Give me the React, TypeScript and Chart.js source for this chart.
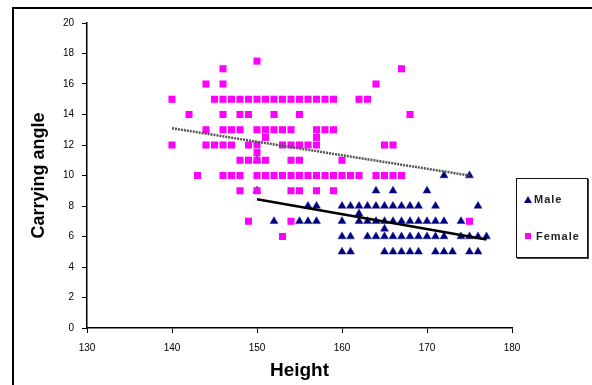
import { useEffect, useRef } from "react";
import { Chart, registerables } from "chart.js";

Chart.register(...registerables);

// ---- Data (height in cm, carrying angle in degrees) ----
const xTicks = [130, 140, 150, 160, 170, 180];
const yTicks = [0, 2, 4, 6, 8, 10, 12, 14, 16, 18, 20];

// Male heights grouped by carrying angle
const male11 = [150];
const male10 = [172, 175];
const male9 = [150, 164, 166, 170];
const male8 = [156, 157, 160, 161, 162, 163, 164, 165, 166, 167, 168, 169, 171, 176];
const male7_5 = [162];
const male7 = [152, 155, 156, 157, 160, 162, 163, 164, 165, 166, 167, 168, 169, 170, 171, 172, 174];
const male6_5 = [165];
const male6 = [160, 161, 163, 164, 165, 166, 167, 168, 169, 170, 171, 172, 174, 175, 176, 177];
const male5 = [160, 161, 165, 166, 167, 168, 169, 171, 172, 173, 175, 176];
const maleAngles = [11, 10, 9, 8, 7.5, 7, 6.5, 6, 5];
const maleGroups = [male11, male10, male9, male8, male7_5, male7, male6_5, male6, male5];

// Female heights grouped by carrying angle
const female17_5 = [150];
const female17 = [146, 167];
const female16 = [144, 146, 164];
const female15 = [140, 145, 146, 147, 148, 149, 150, 151, 152, 153, 154, 155, 156, 157, 158, 159, 162, 163];
const female14 = [142, 146, 148, 149, 152, 155, 168];
const female13 = [144, 146, 147, 148, 150, 151, 152, 153, 154, 157, 158, 159];
const female12_5 = [151, 157];
const female12 = [140, 144, 145, 146, 147, 149, 150, 153, 154, 155, 156, 157, 165, 166];
const female11_5 = [150];
const female11 = [148, 149, 150, 151, 154, 155, 160];
const female10 = [143, 146, 147, 148, 150, 151, 152, 153, 154, 155, 156, 157, 158, 159, 160, 161, 162, 164, 165, 166, 167];
const female9 = [148, 150, 154, 155, 157, 159];
const female7 = [149, 154, 175];
const female6 = [153];
const femaleAngles = [17.5, 17, 16, 15, 14, 13, 12.5, 12, 11.5, 11, 10, 9, 7, 6];
const femaleGroups = [
  female17_5, female17, female16, female15, female14, female13, female12_5,
  female12, female11_5, female11, female10, female9, female7, female6,
];

// Linear trend lines (end points)
const maleTrendX = [150, 177];
const maleTrendY = [8.44, 5.8];
const femaleTrendX = [140, 175];
const femaleTrendY = [13.1, 10.0];

const toPoints = (angles: number[], groups: number[][]) =>
  angles.flatMap((a, i) => groups[i].map((h) => ({ x: h, y: a })));

const FONT = "'Liberation Sans', Arial, sans-serif";

export default function App() {
  const ref = useRef<HTMLCanvasElement | null>(null);

  useEffect(() => {
    if (!ref.current) return;
    const chart = new Chart(ref.current, {
      type: "scatter",
      data: {
        datasets: [
          {
            label: "MaleTrend",
            type: "line",
            data: maleTrendX.map((x, i) => ({ x, y: maleTrendY[i] })),
            borderColor: "#000000",
            borderWidth: 2.5,
            pointRadius: 0,
            showLine: true,
            fill: false,
            order: 1,
          },
          {
            label: "FemaleTrend",
            type: "line",
            data: femaleTrendX.map((x, i) => ({ x, y: femaleTrendY[i] })),
            borderColor: "#555555",
            borderWidth: 2.5,
            borderDash: [2, 1],
            pointRadius: 0,
            showLine: true,
            fill: false,
            order: 2,
          },
          {
            label: "Female",
            data: toPoints(femaleAngles, femaleGroups),
            pointStyle: "rect",
            pointRadius: 5,
            backgroundColor: "#FF00FF",
            borderColor: "#FF00FF",
            borderWidth: 0,
            order: 3,
          },
          {
            label: "Male",
            data: toPoints(maleAngles, maleGroups),
            pointStyle: "triangle",
            pointRadius: 4.6,
            backgroundColor: "#000080",
            borderColor: "#1a1a90",
            borderWidth: 0.5,
            order: 4,
          },
        ],
      },
      options: {
        animation: false,
        responsive: false,
        devicePixelRatio: 1,
        layout: { padding: { left: 0, top: 23, right: 80, bottom: 0 } },
        plugins: {
          legend: { display: false },
          tooltip: { enabled: false },
        },
        scales: {
          x: {
            type: "linear",
            min: xTicks[0],
            max: xTicks[xTicks.length - 1],
            afterBuildTicks: (axis: any) => {
              axis.ticks = xTicks.map((v) => ({ value: v }));
            },
            afterFit: (axis: any) => {
              axis.height = 57;
            },
            ticks: {
              color: "#000",
              padding: 9,
              font: { family: FONT, size: 10 },
            },
            grid: {
              drawOnChartArea: false,
              drawTicks: true,
              tickLength: 5,
              color: "#000",
              lineWidth: 1,
            },
            border: { display: true, color: "#000", width: 1.5 },
            title: {
              display: true,
              text: "Height",
              color: "#000",
              font: { family: FONT, size: 19, weight: "bold" },
              padding: { top: 0, bottom: 3 },
            },
          },
          y: {
            type: "linear",
            min: yTicks[0],
            max: yTicks[yTicks.length - 1],
            afterBuildTicks: (axis: any) => {
              axis.ticks = yTicks.map((v) => ({ value: v }));
            },
            afterFit: (axis: any) => {
              axis.width = 87;
            },
            ticks: {
              color: "#000",
              padding: 8,
              font: { family: FONT, size: 10 },
            },
            grid: {
              drawOnChartArea: false,
              drawTicks: true,
              tickLength: 5,
              color: "#000",
              lineWidth: 1,
            },
            border: { display: true, color: "#000", width: 1.5 },
            title: {
              display: true,
              text: "Carrying angle",
              color: "#000",
              font: { family: FONT, size: 18, weight: "bold" },
              padding: { top: 28, bottom: 0 },
            },
          },
        },
      },
    } as any);
    return () => chart.destroy();
  }, []);

  return (
    <div
      style={{
        position: "fixed",
        left: 0,
        top: 0,
        width: 592,
        height: 385,
        overflow: "hidden",
        background: "#fff",
      }}
    >
      <div
        style={{
          position: "absolute",
          left: 12,
          top: 7,
          width: 620,
          height: 420,
          border: "2px solid #000",
          boxSizing: "border-box",
        }}
      />
      <canvas
        ref={ref}
        width={592}
        height={385}
        style={{ position: "absolute", left: 0, top: 0, width: 592, height: 385 }}
      />
      <div
        style={{
          position: "absolute",
          left: 516,
          top: 178,
          width: 72,
          height: 80,
          border: "1px solid #111",
          boxShadow: "1px 1px 0 #444",
          boxSizing: "border-box",
          background: "#fff",
          fontFamily: FONT,
          fontSize: 11,
          fontWeight: "bold",
          color: "#222",
          letterSpacing: 1,
        }}
      >
        <div
          style={{
            position: "absolute",
            left: 7,
            top: 17,
            width: 0,
            height: 0,
            borderLeft: "4px solid transparent",
            borderRight: "4px solid transparent",
            borderBottom: "7px solid #000080",
          }}
        />
        <div style={{ position: "absolute", left: 17, top: 13, lineHeight: "14px" }}>Male</div>
        <div
          style={{
            position: "absolute",
            left: 8,
            top: 54,
            width: 6,
            height: 6,
            background: "#FF00FF",
          }}
        />
        <div style={{ position: "absolute", left: 19, top: 50, lineHeight: "14px" }}>Female</div>
      </div>
    </div>
  );
}
